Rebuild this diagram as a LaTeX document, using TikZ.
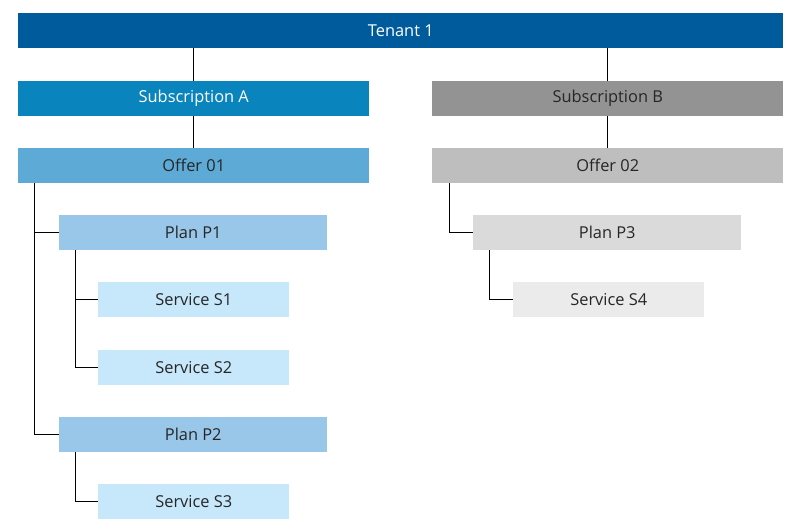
\documentclass[tikz,border=0pt]{standalone}
\usepackage{fontspec}
\setmainfont{Open Sans}
\usetikzlibrary{positioning}
\definecolor{tenantblue}{HTML}{005B9C}
\definecolor{subablue}{HTML}{0A84BD}
\definecolor{offerablue}{HTML}{5EAAD7}
\definecolor{planablue}{HTML}{99C7EA}
\definecolor{serviceablue}{HTML}{C7E7FB}
\definecolor{subbgray}{HTML}{939393}
\definecolor{offerbgray}{HTML}{BEBEBE}
\definecolor{planbgray}{HTML}{DADADA}
\definecolor{servicebgray}{HTML}{EBEBEB}
\definecolor{labelgray}{HTML}{262626}

\begin{document}
\begin{tikzpicture}[x=0.75pt,y=-0.75pt,
	box/.style={rectangle, anchor=north west, inner sep=0pt, minimum height=25.9pt,
		font=\fontsize{12.3}{14}\selectfont, text=labelgray},
	widebox/.style={box, minimum width=263.25pt},
	planbox/.style={box, minimum width=201pt},
	servicebox/.style={box, minimum width=143.25pt},
	link/.style={draw=black, line width=0.75pt}]
	\useasboundingbox (0,0) rectangle (800,529);

	\node [box, minimum width=573.75pt, fill=tenantblue, text=white] (tenant) at (18,13) {Tenant 1};

	\node [widebox, fill=subablue, text=white] (subA) at (18,81) {Subscription A};
	\node [widebox, fill=offerablue] (offerA) at (18,148) {Offer 01};
	\node [planbox, fill=planablue] (planP1) at (59,215) {Plan P1};
	\node [servicebox, fill=serviceablue] (serviceS1) at (98,282) {Service S1};
	\node [servicebox, fill=serviceablue] (serviceS2) at (98,350) {Service S2};
	\node [planbox, fill=planablue] (planP2) at (59,417) {Plan P2};
	\node [servicebox, fill=serviceablue] (serviceS3) at (98,484) {Service S3};

	\node [widebox, fill=subbgray] (subB) at (432,81) {Subscription B};
	\node [widebox, fill=offerbgray] (offerB) at (432,148) {Offer 02};
	\node [planbox, fill=planbgray] (planP3) at (473,215) {Plan P3};
	\node [servicebox, fill=servicebgray] (serviceS4) at (513,282) {Service S4};

	% tenant to subscriptions
	\draw [link] (subA.north) -- (subA.north |- tenant.south);
	\draw [link] (subB.north) -- (subB.north |- tenant.south);
	\draw [link] (subA) -- (offerA);
	\draw [link] (subB) -- (offerB);

	% offers to plans
	\draw [link] (offerA.south west) ++(16,0) |- (planP1.west);
	\draw [link] (offerA.south west) ++(16,0) |- (planP2.west);
	\draw [link] (offerB.south west) ++(17,0) |- (planP3.west);

	% plans to services
	\draw [link] (planP1.south west) ++(16,0) |- (serviceS1.west);
	\draw [link] (planP1.south west) ++(16,0) |- (serviceS2.west);
	\draw [link] (planP2.south west) ++(16,0) |- (serviceS3.west);
	\draw [link] (planP3.south west) ++(16,0) |- (serviceS4.west);
\end{tikzpicture}
\end{document}
